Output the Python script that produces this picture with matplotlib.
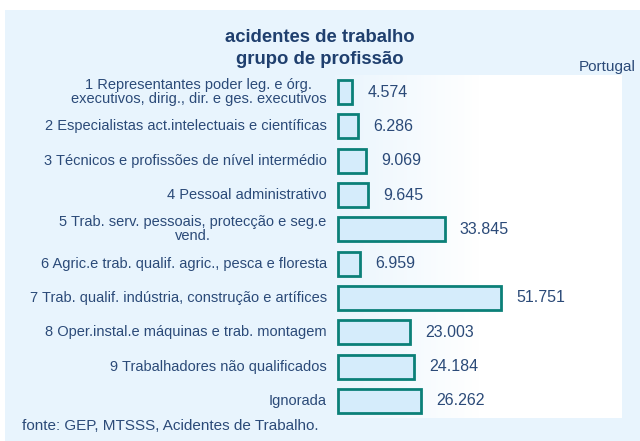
import numpy as np
import matplotlib
matplotlib.use("Agg")
import matplotlib.pyplot as plt
from matplotlib.patches import Rectangle

plt.rcParams.update({"font.family": ["Liberation Sans", "DejaVu Sans"],
                     "font.size": 10.8})

categories = [
    "1 Representantes poder leg. e órg.\nexecutivos, dirig., dir. e ges. executivos",
    "2 Especialistas act.intelectuais e científicas",
    "3 Técnicos e profissões de nível intermédio",
    "4 Pessoal administrativo",
    "5 Trab. serv. pessoais, protecção e seg.e\nvend.",
    "6 Agric.e trab. qualif. agric., pesca e floresta",
    "7 Trab. qualif. indústria, construção e artífices",
    "8 Oper.instal.e máquinas e trab. montagem",
    "9 Trabalhadores não qualificados",
    "Ignorada",
]
values = [4.574, 6.286, 9.069, 9.645, 33.845, 6.959, 51.751, 23.003, 24.184, 26.262]
value_labels = ["4.574", "6.286", "9.069", "9.645", "33.845", "6.959",
                "51.751", "23.003", "24.184", "26.262"]

TXT = "#2b4a78"
PANEL = "#e8f4fd"

fig = plt.figure(figsize=(6.4, 4.41), dpi=100)
fig.patches.append(Rectangle((5 / 640, 0), 1, 1 - 10 / 441, transform=fig.transFigure,
                             facecolor=PANEL, edgecolor="none", zorder=-10))

ax = fig.add_axes([335 / 640, 1 - 418 / 441, 287 / 640, 343 / 441])
ax.set_facecolor("none")
grad = np.linspace(0, 1, 256).reshape(1, -1)
cmap = matplotlib.colors.LinearSegmentedColormap.from_list("g", ["#eaf5fd", "#ffffff", "#ffffff"])
ax.imshow(grad, cmap=cmap, aspect="auto", extent=[0, 1, 0, 1],
          transform=ax.transAxes, zorder=0)

y = np.arange(len(categories))
ax.barh(y, values, height=0.7, left=0.9, color="#d5ecfb", edgecolor="#0b8078",
        linewidth=2, zorder=2)
for yi, v, lab in zip(y, values, value_labels):
    ax.annotate(lab, xy=(v + 0.9, yi), xytext=(11, 0), textcoords="offset points",
                va="center", ha="left", color=TXT, fontsize=11.5)

# category labels (centred multi-line, right-aligned block)
for yi, cat in zip(y, categories):
    ax.annotate(cat, xy=(0, yi), xycoords=ax.get_yaxis_transform(),
                xytext=(-6, 0), textcoords="offset points", ha="right",
                va="center", multialignment="center", linespacing=1.0,
                color=TXT, fontsize=10.5, annotation_clip=False)

ax.set_xlim(0, 91)
ax.set_ylim(len(categories) - 0.5, -0.5)
ax.set_yticks([])
ax.set_xticks([])
for s in ax.spines.values():
    s.set_visible(False)

fig.text(0.5, 1 - 37 / 441, "acidentes de trabalho", ha="center", va="center",
         fontsize=13.3, fontweight="bold", color="#1f3f6e")
fig.text(0.5, 1 - 59 / 441, "grupo de profissão", ha="center", va="center",
         fontsize=13.3, fontweight="bold", color="#1f3f6e")
fig.text(636 / 640, 1 - 67 / 441, "Portugal", ha="right", va="center",
         fontsize=11, color=TXT)
fig.text(22 / 640, 1 - 426 / 441, "fonte: GEP, MTSSS, Acidentes de Trabalho.",
         ha="left", va="center", fontsize=11, color=TXT)

fig.savefig("out.png", dpi=100)
